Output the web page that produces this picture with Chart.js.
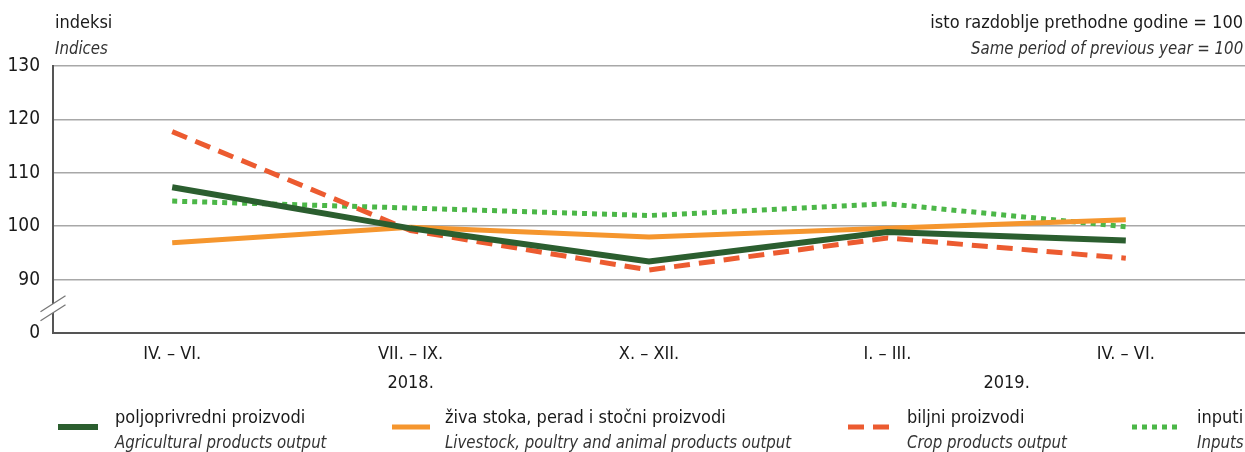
<!DOCTYPE html>
<html>
<head>
<meta charset="utf-8">
<script src="https://cdn.jsdelivr.net/npm/chart.js@4.4.1/dist/chart.umd.min.js"></script>
<style>
  html, body { margin:0; padding:0; background:#fff; }
  #wrap { position:relative; width:1245px; height:452px; overflow:hidden;
          font-family:"Liberation Sans Narrow","DejaVu Sans Condensed","Roboto Condensed","Liberation Sans",sans-serif; color:#1a1a1a; }
  canvas { position:absolute; left:0; top:0; }
  .t { position:absolute; white-space:nowrap; font-size:18px; line-height:22px; }
  .i { font-style:italic; color:#333; transform:scaleX(0.925); transform-origin:left center; }
  .r { text-align:right; }
  .i.r { transform-origin:right center; }
</style>
</head>
<body>
<div id="wrap">
  <canvas id="c" width="1245" height="452"></canvas>
  <div class="t" style="left:55px;top:11px;">indeksi</div>
  <div class="t i" style="left:55px;top:37px;">Indices</div>
  <div class="t r" style="right:2px;top:11px;">isto razdoblje prethodne godine = 100</div>
  <div class="t i r" style="right:2px;top:37px;">Same period of previous year = 100</div>
  <div id="legend"></div>
</div>
<script>
const categories = ["IV. – VI.", "VII. – IX.", "X. – XII.", "I. – III.", "IV. – VI."];
const yearLabels = ["2018.", "2019."];
const yearGroups = [[0, 2], [3, 4]];   // category index ranges of each year
const yTicks = [80, 90, 100, 110, 120, 130];  // 80 is shown as 0 (broken axis)

const agricultural = [107.3, 99.6, 93.4, 98.9, 97.3];
const livestock    = [96.9, 99.8, 98.0, 99.6, 101.2];
const crop         = [117.7, 99.2, 91.8, 97.8, 94.0];
const inputs       = [104.7, 103.4, 102.0, 104.2, 99.9];

const seriesNames = [
  ["poljoprivredni proizvodi", "Agricultural products output"],
  ["živa stoka, perad i stočni proizvodi", "Livestock, poultry and animal products output"],
  ["biljni proizvodi", "Crop products output"],
  ["inputi", "Inputs"]
];

const FONT = '"Liberation Sans Narrow","DejaVu Sans Condensed","Liberation Sans",sans-serif';

const styles = [
  {color:'#2b5e2f', width:6, dash:[]},
  {color:'#f5962e', width:5, dash:[]},
  {color:'#ec5b30', width:5, dash:[16,9]},
  {color:'#4cb748', width:5, dash:[5,5]}
];
const dataSets = [agricultural, livestock, crop, inputs];
const order = [0, 1, 2, 3];

const datasets = dataSets.map((d, i) => ({
  label: seriesNames[i][0],
  data: d,
  borderColor: styles[i].color,
  borderWidth: styles[i].width,
  borderDash: styles[i].dash,
  borderCapStyle: 'butt',
  pointRadius: 0,
  tension: 0,
  fill: false,
  order: order[i]
}));

const yearPlugin = {
  id: 'years',
  afterDraw(chart) {
    const ctx = chart.ctx, xs = chart.scales.x, ys = chart.scales.y;
    ctx.save();
    ctx.font = '18px ' + FONT;
    ctx.fillStyle = '#1a1a1a';
    ctx.textAlign = 'center';
    ctx.textBaseline = 'middle';
    yearLabels.forEach((lab, k) => {
      const [a, b] = yearGroups[k];
      const x = (xs.getPixelForValue(a) + xs.getPixelForValue(b)) / 2;
      ctx.fillText(lab, x, chart.chartArea.bottom + 50);
    });
    // axis break marks
    const ax = chart.chartArea.left;
    const yMid = (ys.getPixelForValue(90) + ys.getPixelForValue(80)) / 2 + 2;
    const dx = 12.5, dy = 8, g = 4.5;
    ctx.fillStyle = '#fff';
    ctx.beginPath();
    ctx.moveTo(ax - dx, yMid - g + dy);
    ctx.lineTo(ax + dx, yMid - g - dy);
    ctx.lineTo(ax + dx, yMid + g - dy);
    ctx.lineTo(ax - dx, yMid + g + dy);
    ctx.closePath();
    ctx.fill();
    ctx.strokeStyle = '#777';
    ctx.lineWidth = 1.3;
    [-g, g].forEach(o => {
      ctx.beginPath();
      ctx.moveTo(ax - dx, yMid + o + dy);
      ctx.lineTo(ax + dx, yMid + o - dy);
      ctx.stroke();
    });
    ctx.restore();
  }
};

new Chart(document.getElementById('c'), {
  type: 'line',
  data: { labels: categories, datasets },
  options: {
    responsive: false,
    animation: false,
    events: [],
    layout: { padding: { top: 66, right: 0, left: 0, bottom: 0 } },
    plugins: { legend: { display: false }, tooltip: { enabled: false } },
    scales: {
      x: {
        type: 'category',
        offset: true,
        grid: { display: false, drawTicks: false },
        border: { display: true, color: '#555', width: 2 },
        ticks: { color: '#1a1a1a', font: { family: FONT, size: 18 }, padding: 11, maxRotation: 0 },
        afterFit(s) { s.height = 119; }
      },
      y: {
        min: 80, max: 130,
        afterBuildTicks(s) { s.ticks = yTicks.map(v => ({ value: v })); },
        grid: { color: c => (c.tick && c.tick.value === 80) ? 'rgba(0,0,0,0)' : '#a8a8a8', lineWidth: 1.5, drawTicks: false },
        border: { display: true, color: '#555', width: 2 },
        ticks: { color: '#1a1a1a', font: { family: FONT, size: 19 }, padding: 13,
                 callback: v => v === 80 ? '0' : String(v) },
        afterFit(s) { s.width = 53; }
      }
    }
  },
  plugins: [yearPlugin]
});

// legend
const legendPos = [
  {sx:58, sw:40, tx:115},
  {sx:392, sw:38, tx:445},
  {sx:848, sw:41, tx:907},
  {sx:1132, sw:46, tx:1197}
];
const lg = document.getElementById('legend');
seriesNames.forEach((nm, i) => {
  const p = legendPos[i], st = styles[i];
  const cv = document.createElement('canvas');
  cv.width = p.sw; cv.height = 10;
  cv.style.left = p.sx + 'px'; cv.style.top = '422px';
  const cx = cv.getContext('2d');
  cx.strokeStyle = st.color; cx.lineWidth = st.width;
  cx.setLineDash(st.dash);
  cx.beginPath(); cx.moveTo(0, 5); cx.lineTo(p.sw, 5); cx.stroke();
  lg.appendChild(cv);
  const a = document.createElement('div');
  a.className = 't'; a.style.left = p.tx + 'px'; a.style.top = '406px'; a.textContent = nm[0];
  const b = document.createElement('div');
  b.className = 't i'; b.style.left = p.tx + 'px'; b.style.top = '431px'; b.textContent = nm[1];
  lg.appendChild(a); lg.appendChild(b);
});
</script>
</body>
</html>
